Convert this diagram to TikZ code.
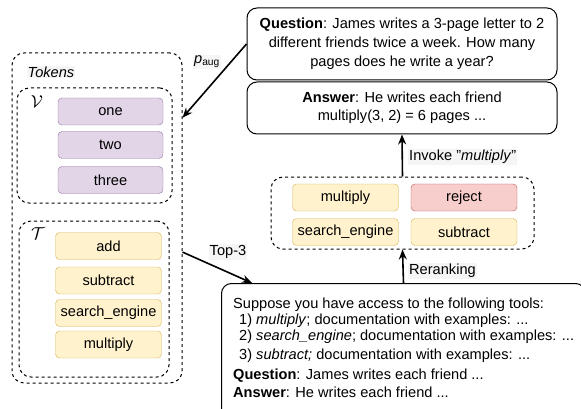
\documentclass[tikz,border=0pt]{standalone}
\usepackage{fontspec}
\setmainfont{Liberation Sans}
\usetikzlibrary{arrows.meta,calc}

\definecolor{vocfill}{HTML}{E1D5E7}
\definecolor{vocline}{HTML}{9673A6}
\definecolor{toolfill}{HTML}{FFF2CC}
\definecolor{toolline}{HTML}{D6B656}
\definecolor{rejfill}{HTML}{F8CECC}
\definecolor{rejline}{HTML}{B85450}

\tikzset{
  txt/.style={font=\fontsize{14.6}{17}\selectfont},
  group/.style={draw, line width=1pt, dash pattern=on 3pt off 3pt, rounded corners=12pt, minimum width=#1},
  vocbox/.style={txt, draw=vocline, fill=vocfill, rounded corners=4pt, minimum width=105pt, minimum height=27pt},
  toolbox/.style={txt, draw=toolline, fill=toolfill, rounded corners=4pt, minimum width=106pt, minimum height=27pt},
  rejbox/.style={toolbox, draw=rejline, fill=rejfill},
  textbox/.style={txt, draw, line width=1pt, rounded corners=10pt, align=center},
  edgelabel/.style={txt, fill=black!4, inner sep=1pt},
  flow/.style={line width=1.6pt, -{Stealth[length=10pt,width=8pt]}}
}

\begin{document}
\begin{tikzpicture}[x=1pt,y=1pt,yscale=-1]
\useasboundingbox (0,0) rectangle (581,409);

%Groups: token sets
\node [group=170pt, minimum height=330pt] (tokens) at (97,218) {};
\node [edgelabel, font=\fontsize{14.6}{17}\selectfont\itshape] (tokenslbl) at (51,72) {Tokens};
\node [group=155pt, minimum height=115pt] (vocab) at (94.5,145.5) {};
\node [font=\fontsize{16}{18}\selectfont] (vsym) at (37,102) {$\mathcal{V}$};
\node [group=150pt, minimum height=156pt] (tools) at (94,299) {};
\node [font=\fontsize{16}{18}\selectfont] (tsym) at (38,234) {$\mathcal{T}$};

% Vocabulary tokens
\node [vocbox] (one) at (110.5,111.5) {one};
\node [vocbox] (two) at (110.5,145) {two};
\node [vocbox] (three) at (110.5,180) {three};

% Tool tokens
\node [toolbox] (add) at (108.5,246) {add};
\node [toolbox] (subtract) at (108.5,280.5) {subtract};
\node [toolbox] (search) at (108.5,313) {search\_engine};
\node [toolbox] (multiply) at (108.5,344.5) {multiply};

% Question and answer
\node [textbox, minimum width=310pt, minimum height=72pt, font=\fontsize{14.6}{19}\selectfont] (question) at (402,44)
  {\textbf{Question}: James writes a 3-page letter to 2\\different friends twice a week. How many\\pages does he write a year?};
\node [textbox, minimum width=310pt, minimum height=52pt, font=\fontsize{14.6}{18}\selectfont] (answer) at (402,108)
  {\textbf{Answer}: He writes each friend\\multiply(3, 2) = 6 pages ...};

% Reranked tools
\node [group=263pt, minimum height=72pt] (ranked) at (402.5,213) {};
\node [toolbox] (rmultiply) at (345.5,197.5) {multiply};
\node [toolbox] (rsearch) at (345.5,232) {search\_engine};
\node [rejbox] (rreject) at (464,197.5) {reject};
\node [toolbox] (rsubtract) at (464,232) {subtract};

% Prompt
\node [draw, line width=1pt, rounded corners=10pt, minimum width=364pt, minimum height=140pt, anchor=north west] (prompt) at (221,283) {};
\node [txt, font=\fontsize{14.6}{16}\selectfont, align=left, anchor=north west, inner sep=0pt] (prompttxt) at (233,298)
  {Suppose you have access to the following tools:\\
   \hspace*{6pt}1) \textit{multiply}; documentation with examples: ...\\
   \hspace*{6pt}2) \textit{search\_engine}; documentation with examples: ...\\[3pt]
   \hspace*{6pt}3) \textit{subtract;} documentation with examples: ...\\[4pt]
   \textbf{Question}: James writes each friend ...\\[2pt]
   \textbf{Answer}: He writes each friend ...};

% Arrows
\draw [flow] (question.west) -- ($(tokens.north east)!0.197!(tokens.south east)$);
\node [edgelabel] (paug) at (207,62) {\textit{p}\textsubscript{aug}};
\draw [flow] ($(tokens.north east)!0.603!(tokens.south east)$) -- ($(prompt.north west)!0.085!(prompt.north east)$);
\node [edgelabel] (top3) at (228,252) {Top-3};
\draw [flow] (prompt.north) -- (ranked.south);
\node [edgelabel, anchor=west] (rerank) at (408,271) {Reranking};
\draw [flow] (ranked.north) -- (answer.south);
\node [edgelabel, anchor=west] (invoke) at (408,157) {Invoke {\char34}\textit{multiply}{\char34}};

\end{tikzpicture}
\end{document}
